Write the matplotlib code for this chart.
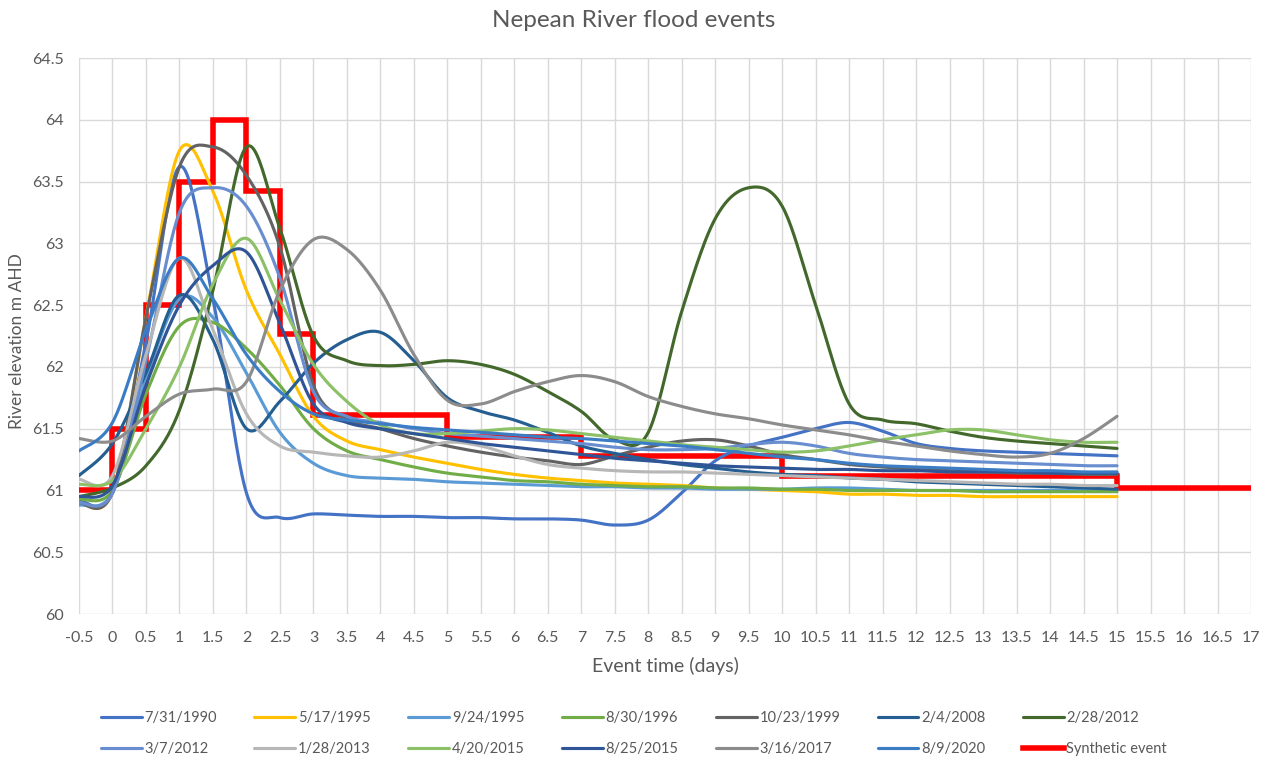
import numpy as np
import matplotlib
matplotlib.use("Agg")
import matplotlib.pyplot as plt
from matplotlib.lines import Line2D

plt.rcParams['font.family'] = ['Lato', 'DejaVu Sans']

# event time (days) at which each recorded series was read
days = [-0.5, 0, 0.5, 1, 1.5, 2, 2.5, 3, 3.5, 4, 4.5, 5, 5.5, 6, 6.5, 7, 7.5,
        8, 8.5, 9, 9.5, 10, 10.5, 11, 11.5, 12, 12.5, 13, 13.5, 14, 14.5, 15]

ev_1990_07_31 = [60.92, 60.98, 62.2, 63.62, 62.55, 60.98, 60.78, 60.81, 60.8, 60.79, 60.79, 60.78,
                 60.78, 60.77, 60.77, 60.76, 60.72, 60.76, 60.98, 61.24, 61.36, 61.43, 61.5, 61.55,
                 61.48, 61.38, 61.34, 61.32, 61.31, 61.3, 61.29, 61.28]
ev_1995_05_17 = [60.9, 60.99, 62.4, 63.75, 63.42, 62.62, 62.1, 61.6, 61.4, 61.33, 61.27, 61.22,
                 61.17, 61.13, 61.1, 61.08, 61.06, 61.05, 61.04, 61.02, 61.01, 61.0, 60.99, 60.97,
                 60.97, 60.96, 60.96, 60.95, 60.95, 60.95, 60.95, 60.95]
ev_1995_09_24 = [60.88, 60.98, 61.9, 62.55, 62.4, 61.95, 61.47, 61.22, 61.12, 61.1, 61.09, 61.07,
                 61.06, 61.05, 61.04, 61.03, 61.03, 61.02, 61.02, 61.01, 61.01, 61.01, 61.02, 61.02,
                 61.01, 61.0, 61.0, 61.0, 61.0, 61.0, 61.0, 61.0]
ev_1996_08_30 = [60.93, 61.0, 61.78, 62.33, 62.36, 62.15, 61.85, 61.5, 61.32, 61.25, 61.19, 61.14,
                 61.11, 61.08, 61.07, 61.05, 61.04, 61.03, 61.03, 61.02, 61.02, 61.01, 61.01, 61.0,
                 61.0, 61.0, 61.0, 60.99, 60.99, 60.99, 60.99, 60.99]
ev_1999_10_23 = [60.9, 60.99, 62.4, 63.62, 63.78, 63.55, 62.97, 61.85, 61.58, 61.5, 61.42, 61.36,
                 61.31, 61.27, 61.24, 61.21, 61.28, 61.35, 61.4, 61.41, 61.36, 61.29, 61.25, 61.21,
                 61.19, 61.17, 61.16, 61.15, 61.14, 61.14, 61.13, 61.13]
ev_2008_02_04 = [61.12, 61.38, 61.95, 62.58, 62.22, 61.5, 61.72, 62.03, 62.22, 62.28, 62.05, 61.75,
                 61.64, 61.57, 61.47, 61.36, 61.3, 61.25, 61.21, 61.18, 61.15, 61.13, 61.12, 61.1,
                 61.09, 61.07, 61.06, 61.05, 61.04, 61.03, 61.02, 61.01]
ev_2012_02_28 = [60.95, 61.02, 61.2, 61.65, 62.62, 63.78, 63.12, 62.25, 62.05, 62.01, 62.02, 62.05,
                 62.02, 61.94, 61.8, 61.64, 61.41, 61.47, 62.45, 63.2, 63.45, 63.3, 62.5, 61.7,
                 61.57, 61.54, 61.48, 61.43, 61.4, 61.38, 61.36, 61.34]
ev_2012_03_07 = [60.9, 60.98, 62.05, 63.25, 63.45, 63.3, 62.72, 61.8, 61.6, 61.55, 61.5, 61.46,
                 61.44, 61.42, 61.4, 61.38, 61.35, 61.33, 61.33, 61.34, 61.37, 61.39, 61.36, 61.3,
                 61.27, 61.25, 61.24, 61.23, 61.22, 61.21, 61.2, 61.2]
ev_2013_01_28 = [61.09, 61.12, 62.1, 62.88, 62.3, 61.62, 61.36, 61.31, 61.28, 61.27, 61.32, 61.39,
                 61.36, 61.28, 61.21, 61.18, 61.16, 61.15, 61.15, 61.14, 61.13, 61.12, 61.11, 61.1,
                 61.09, 61.08, 61.07, 61.06, 61.05, 61.05, 61.04, 61.04]
ev_2015_04_20 = [61.05, 61.08, 61.5, 62.0, 62.67, 63.04, 62.54, 62.02, 61.72, 61.53, 61.46, 61.46,
                 61.48, 61.5, 61.49, 61.46, 61.43, 61.4, 61.37, 61.35, 61.33, 61.31, 61.32, 61.36,
                 61.41, 61.45, 61.49, 61.49, 61.45, 61.41, 61.39, 61.39]
ev_2015_08_25 = [60.95, 61.04, 61.85, 62.5, 62.82, 62.93, 62.35, 61.7, 61.55, 61.5, 61.46, 61.42,
                 61.38, 61.35, 61.32, 61.29, 61.26, 61.24, 61.22, 61.2, 61.19, 61.18, 61.17, 61.17,
                 61.16, 61.16, 61.15, 61.15, 61.15, 61.14, 61.14, 61.14]
ev_2017_03_16 = [61.42, 61.4, 61.6, 61.78, 61.82, 61.88, 62.62, 63.03, 62.95, 62.62, 62.1, 61.73,
                 61.7, 61.8, 61.88, 61.93, 61.88, 61.76, 61.68, 61.62, 61.58, 61.53, 61.49, 61.45,
                 61.4, 61.36, 61.32, 61.29, 61.27, 61.3, 61.42, 61.6]
ev_2020_08_09 = [61.32, 61.55, 62.3, 62.88, 62.55, 62.1, 61.8, 61.62, 61.57, 61.54, 61.51, 61.49,
                 61.47, 61.45, 61.43, 61.42, 61.4, 61.38, 61.36, 61.33, 61.3, 61.27, 61.25, 61.22,
                 61.2, 61.19, 61.18, 61.17, 61.16, 61.16, 61.15, 61.15]

# synthetic event: step edges (days) and level for each step
synth_edges = [-0.5, 0, 0.5, 1, 1.5, 2, 2.5, 3, 5, 7, 10, 15, 17]
synth_levels = [61.0, 61.5, 62.5, 63.5, 64.0, 63.42, 62.27, 61.61, 61.43, 61.28, 61.12, 61.02]

labels = ['7/31/1990', '5/17/1995', '9/24/1995', '8/30/1996', '10/23/1999', '2/4/2008',
          '2/28/2012', '3/7/2012', '1/28/2013', '4/20/2015', '8/25/2015', '3/16/2017',
          '8/9/2020']
series = [ev_1990_07_31, ev_1995_05_17, ev_1995_09_24, ev_1996_08_30, ev_1999_10_23,
          ev_2008_02_04, ev_2012_02_28, ev_2012_03_07, ev_2013_01_28, ev_2015_04_20,
          ev_2015_08_25, ev_2017_03_16, ev_2020_08_09]
colors = ['#4472C4', '#FFC000', '#5B9BD5', '#70AD47', '#636363', '#255E91', '#43682B',
          '#698ED0', '#B7B7B7', '#8CC168', '#2F5597', '#8C8C8C', '#3A7DC4']


def smooth(xs, ys, n=24):
    # Excel style smoothed line: bezier segments through every point
    P = np.column_stack([xs, ys]).astype(float)
    out = [P[0]]
    t = np.linspace(0, 1, n)[1:, None]
    for i in range(len(P) - 1):
        p0 = P[i - 1] if i > 0 else P[i]
        p1, p2 = P[i], P[i + 1]
        p3 = P[i + 2] if i + 2 < len(P) else P[i + 1]
        b1 = p1 + (p2 - p0) / 6
        b2 = p2 - (p3 - p1) / 6
        seg = (1 - t)**3 * p1 + 3 * (1 - t)**2 * t * b1 + 3 * (1 - t) * t**2 * b2 + t**3 * p2
        out.extend(seg)
    out = np.array(out)
    return out[:, 0], out[:, 1]


fig = plt.figure(figsize=(12.68, 7.58), dpi=100)
ax = fig.add_axes([79 / 1268, 1 - 614 / 758, (1251 - 79) / 1268, (614 - 58) / 758])

handles = []
for lab, ys, c in zip(labels, series, colors):
    sx, sy = smooth(days, ys)
    h, = ax.plot(sx, sy, color=c, lw=2.25, label=lab, solid_capstyle='round')
    handles.append(h)

ax.stairs(synth_levels, synth_edges, baseline=None, color='#FF0000', lw=4.0)
handles.append(Line2D([], [], color='#FF0000', lw=4.0))
labels_all = labels + ['Synthetic event']

ax.set_xlim(-0.5, 17)
ax.set_ylim(60, 64.5)
ax.set_xticks(np.arange(-0.5, 17.01, 0.5))
ax.set_yticks(np.arange(60, 64.51, 0.5))
ax.set_xticklabels([f'{v:g}' for v in np.arange(-0.5, 17.01, 0.5)])
ax.set_yticklabels([f'{v:g}' for v in np.arange(60, 64.51, 0.5)])
ax.grid(True, color='#D9D9D9', lw=1)
ax.set_axisbelow(True)
for s in ax.spines.values():
    s.set_visible(False)
ax.tick_params(length=0, labelsize=11.5, labelcolor='#595959')
ax.tick_params(axis='x', pad=12)
ax.tick_params(axis='y', pad=11)

ax.set_xlabel('Event time (days)', fontsize=14, color='#595959', labelpad=9)
ax.set_ylabel('River elevation m AHD', fontsize=12.5, color='#595959')
ax.yaxis.set_label_coords(-0.046, 0.49)
fig.text(0.5, 0.973, 'Nepean River flood events', ha='center', va='center',
         fontsize=17.5, color='#595959')

# legend filled row by row: 7 per row
order = []
for i in range(7):
    order += [i, i + 7]
leg = fig.legend([handles[i] for i in order], [labels_all[i] for i in order],
                 ncol=7, loc='lower center', bbox_to_anchor=(0.5, -0.015), frameon=False,
                 fontsize=10.5, handlelength=2.8, handletextpad=0.2, columnspacing=2.55,
                 labelspacing=1.17)
for t in leg.get_texts():
    t.set_color('#595959')

fig.savefig('out.png', dpi=100)
